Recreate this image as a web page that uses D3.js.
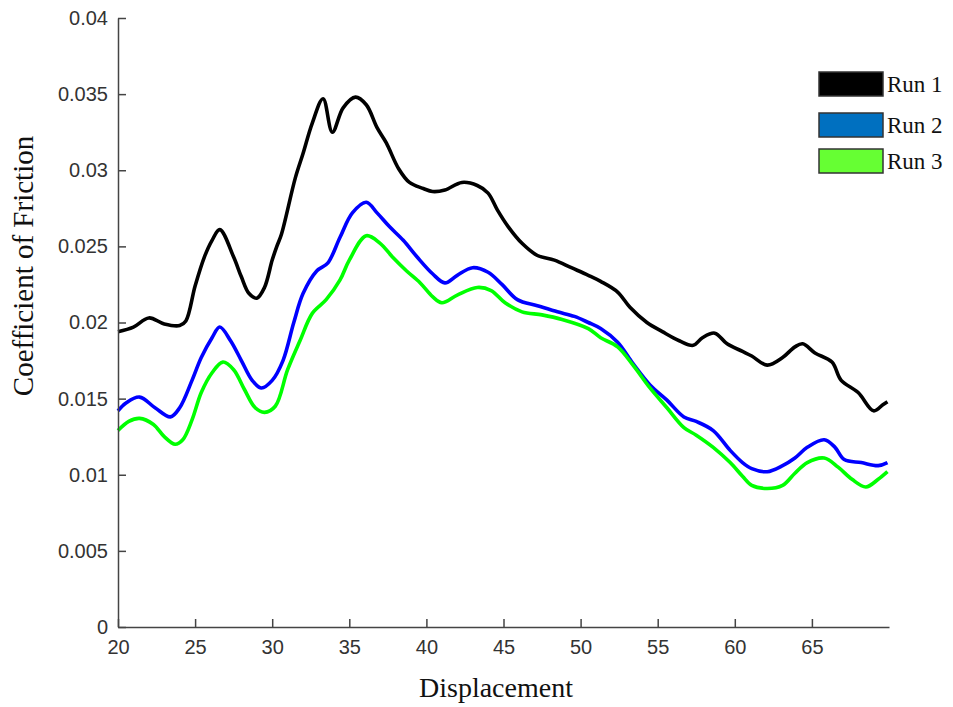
<!DOCTYPE html>
<html>
<head>
<meta charset="utf-8">
<script src="https://cdn.jsdelivr.net/npm/d3@7"></script>
<style>
  body { margin: 0; background: #fff; }
  svg { display: block; }
</style>
</head>
<body>
<svg id="chart" width="953" height="707"></svg>
<script>
// ---- Data ----
const seriesNames = ["Run 1", "Run 2", "Run 3"];
const xTicks = [20, 25, 30, 35, 40, 45, 50, 55, 60, 65];
const yTicks = [0, 0.005, 0.01, 0.015, 0.02, 0.025, 0.03, 0.035, 0.04];

const run1X = [20, 21, 22, 23, 24, 24.4, 25, 25.6, 26.1, 26.6, 27.5, 28, 28.5, 29, 29.5, 30, 30.3, 30.6, 31.5, 32, 32.6, 33.3, 33.9, 34.6, 35.4, 36.1, 36.8, 37.4, 38.2, 38.9, 39.8, 40.4, 41.2, 42.3, 43.3, 44, 44.6, 45.3, 46.2, 47.2, 48.3, 49.4, 50.5, 51.3, 52.4, 53.2, 54.3, 55.3, 56.4, 57.3, 57.9, 58.7, 59.5, 60.5, 61.1, 62.1, 63.1, 63.9, 64.4, 65.2, 66.3, 66.9, 68, 69, 69.6, 69.9];
const run1Y = [0.0194, 0.0197, 0.0203, 0.0199, 0.0198, 0.0201, 0.0224, 0.0243, 0.0254, 0.0261, 0.0243, 0.0230, 0.0219, 0.0216, 0.0223, 0.0241, 0.0250, 0.0258, 0.0295, 0.0311, 0.0331, 0.0347, 0.0325, 0.0341, 0.0348, 0.0343, 0.0328, 0.0318, 0.0301, 0.0292, 0.0288, 0.0286, 0.0287, 0.0292, 0.0290, 0.0285, 0.0274, 0.0263, 0.0252, 0.0244, 0.0241, 0.0236, 0.0231, 0.0227, 0.0220, 0.0210, 0.0200, 0.0194, 0.0188, 0.0185, 0.0190, 0.0193, 0.0186, 0.0181, 0.0178, 0.0172, 0.0177, 0.0184, 0.0186, 0.0180, 0.0174, 0.0162, 0.0154, 0.0142, 0.0146, 0.0148];

const run2X = [20, 20.5, 21.4, 22.4, 23.4, 24, 24.8, 25.4, 26.1, 26.6, 27.3, 28, 28.7, 29.3, 30, 30.7, 31.4, 32, 32.9, 33.6, 34.4, 35.2, 36.1, 36.8, 37.6, 38.5, 39.4, 40.4, 41.2, 42, 43, 44, 44.9, 45.9, 47.2, 48.5, 49.6, 50.5, 51.3, 52.4, 53.4, 54.5, 55.6, 56.7, 57.5, 58.6, 59.7, 60.5, 61.1, 62.1, 63.1, 63.9, 64.7, 65.8, 66.5, 67.1, 68.2, 69.3, 69.9];
const run2Y = [0.0142, 0.0147, 0.0151, 0.0144, 0.0138, 0.0144, 0.0162, 0.0177, 0.0190, 0.0197, 0.0188, 0.0175, 0.0162, 0.0157, 0.0162, 0.0175, 0.0200, 0.0219, 0.0234, 0.0239, 0.0256, 0.0272, 0.0279, 0.0272, 0.0263, 0.0254, 0.0243, 0.0232, 0.0226, 0.0231, 0.0236, 0.0233, 0.0225, 0.0215, 0.0211, 0.0207, 0.0204, 0.0200, 0.0196, 0.0187, 0.0173, 0.0159, 0.0149, 0.0138, 0.0135, 0.0129, 0.0116, 0.0108, 0.0104, 0.0102, 0.0106, 0.0111, 0.0118, 0.0123, 0.0118, 0.0110, 0.0108, 0.0106, 0.0108];

const run3X = [20, 20.7, 21.4, 22.3, 23, 23.7, 24.2, 24.8, 25.4, 26.1, 26.8, 27.5, 28.2, 28.9, 29.5, 30.2, 31, 31.8, 32.6, 33.5, 34.4, 35, 36.1, 37, 37.8, 38.7, 39.6, 40.4, 41, 42, 43.3, 44.2, 45.1, 46.2, 47.5, 48.8, 50.5, 51.3, 52.4, 53.4, 54.5, 55.6, 56.7, 57.5, 58.6, 59.7, 60.5, 61.1, 62.1, 63.1, 63.9, 64.7, 65.8, 66.7, 67.6, 68.5, 69.3, 69.9];
const run3Y = [0.0129, 0.0135, 0.0137, 0.0133, 0.0125, 0.0120, 0.0123, 0.0136, 0.0154, 0.0167, 0.0174, 0.0169, 0.0156, 0.0144, 0.0141, 0.0145, 0.0169, 0.0188, 0.0206, 0.0215, 0.0228, 0.0241, 0.0257, 0.0252, 0.0243, 0.0234, 0.0226, 0.0217, 0.0213, 0.0218, 0.0223, 0.0221, 0.0213, 0.0207, 0.0205, 0.0202, 0.0196, 0.0190, 0.0184, 0.0172, 0.0157, 0.0144, 0.0131, 0.0126, 0.0118, 0.0108, 0.0099, 0.0093, 0.0091, 0.0093, 0.0101, 0.0108, 0.0111, 0.0105, 0.0097, 0.0092, 0.0097, 0.0102];

const lineColors = ["#000000", "#0000ff", "#00ff00"];
const legendColors = ["#000000", "#0070c0", "#66ff33"];

// ---- Layout ----
const svg = d3.select("#chart");
const plotLeft = 118, plotRight = 889, plotTop = 18, plotBottom = 627;

const x = d3.scaleLinear().domain([20, 70]).range([plotLeft, plotRight]);
const y = d3.scaleLinear().domain([0, 0.04]).range([plotBottom, plotTop]);

const series = [
  run1X.map((d, i) => [d, run1Y[i]]),
  run2X.map((d, i) => [d, run2Y[i]]),
  run3X.map((d, i) => [d, run3Y[i]])
];

const line = d3.line().x(d => x(d[0])).y(d => y(d[1])).curve(d3.curveCatmullRom.alpha(0.5));

series.forEach((s, i) => {
  svg.append("path")
    .datum(s)
    .attr("fill", "none")
    .attr("stroke", lineColors[i])
    .attr("stroke-width", 3.6)
    .attr("stroke-linejoin", "round")
    .attr("d", line);
});

// ---- Axes ----
const fmt = d => d === 0 ? "0" : String(+d.toFixed(3));

const xAxis = svg.append("g")
  .attr("transform", `translate(0,${plotBottom})`)
  .call(d3.axisBottom(x).tickValues(xTicks).tickSizeInner(-8).tickSizeOuter(0).tickPadding(13).tickFormat(d3.format("d")));

const yAxis = svg.append("g")
  .attr("transform", `translate(${plotLeft},0)`)
  .call(d3.axisLeft(y).tickValues(yTicks).tickSizeInner(-8).tickSizeOuter(0).tickPadding(10).tickFormat(fmt));

[xAxis, yAxis].forEach(g => {
  g.select(".domain").attr("stroke", "#444").attr("stroke-width", 1.5);
  g.selectAll(".tick line").attr("stroke", "#444").attr("stroke-width", 1.5);
  g.selectAll(".tick text")
    .attr("fill", "#333")
    .style("font-family", "'Liberation Sans', Arial, sans-serif")
    .style("font-size", "20px");
});

// ---- Axis titles ----
svg.append("text")
  .attr("x", 496).attr("y", 697)
  .attr("text-anchor", "middle")
  .style("font-family", "'Liberation Serif', 'Times New Roman', serif")
  .style("font-size", "28px")
  .attr("fill", "#111")
  .text("Displacement");

svg.append("text")
  .attr("transform", "translate(33,266) rotate(-90)")
  .attr("text-anchor", "middle")
  .style("font-family", "'Liberation Serif', 'Times New Roman', serif")
  .style("font-size", "29px")
  .attr("fill", "#111")
  .text("Coefficient of Friction");

// ---- Legend ----
const legendY = [72, 113, 149];
const legend = svg.append("g");
seriesNames.forEach((name, i) => {
  legend.append("rect")
    .attr("x", 819).attr("y", legendY[i])
    .attr("width", 64).attr("height", 24)
    .attr("fill", legendColors[i])
    .attr("stroke", "#333").attr("stroke-width", 1.5);
  legend.append("text")
    .attr("x", 887).attr("y", legendY[i] + 20)
    .style("font-family", "'Liberation Serif', 'Times New Roman', serif")
    .style("font-size", "23px")
    .attr("fill", "#111")
    .text(name);
});
</script>
</body>
</html>
